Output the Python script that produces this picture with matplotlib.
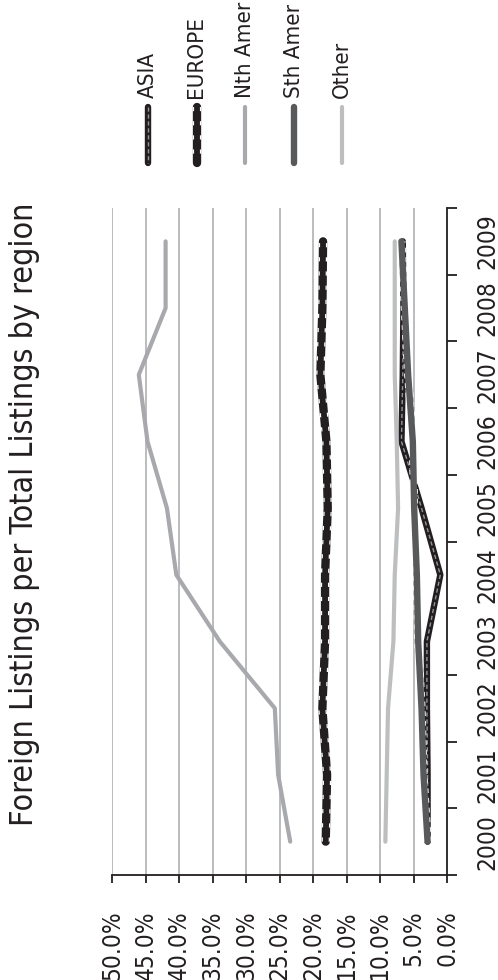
import matplotlib
matplotlib.use("Agg")
import matplotlib.pyplot as plt
from matplotlib.ticker import FixedLocator, FuncFormatter

plt.rcParams['font.family'] = ['DejaVu Sans']
plt.rcParams['font.stretch'] = 'condensed'

years = ["2000", "2001", "2002", "2003", "2004", "2005", "2006", "2007", "2008", "2009"]
asia = [2.9, 2.9, 3.0, 3.0, 1.0, 3.8, 6.8, 6.6, 6.5, 6.6]
europe = [18.1, 17.9, 18.6, 18.2, 18.2, 17.8, 18.0, 18.9, 18.6, 18.5]
nth_amer = [23.4, 25.2, 25.7, 33.9, 40.4, 41.8, 44.7, 46.0, 42.0, 42.0]
sth_amer = [2.9, 3.5, 3.8, 4.3, 4.5, 4.9, 5.1, 5.8, 6.3, 6.8]
other = [9.2, 9.0, 8.8, 8.0, 7.8, 7.3, 7.5, 7.8, 7.8, 7.8]
names = ["ASIA", "EUROPE", "Nth Amer", "Sth Amer", "Other"]
pct_ticks = [0, 5, 10, 15, 20, 25, 30, 35, 40, 45, 50]

ink = "#231f20"
grid = "#a7a9ac"

W, H = 498, 980
PT = 0.72  # points per pixel at 100 dpi
fig = plt.figure(figsize=(W / 100, H / 100), dpi=100)
ax = fig.add_axes([112 / W, 105 / H, 335 / W, 667 / H])

pos = list(range(len(years)))


def draw(a, xs, ys, style):
    # each region is drawn as a few stacked strokes
    for kw in style:
        a.plot(xs, ys, solid_capstyle="round", dash_capstyle="butt",
               solid_joinstyle="round", **kw)


styles = {
    "ASIA": [dict(color=ink, lw=4.6),
             dict(color="#939598", lw=1.0, ls=(0, (3, 2)))],
    "EUROPE": [dict(color=ink, lw=6.0),
               dict(color="white", lw=6.0, ls=(0, (0.5, 1.2))),
               dict(color=ink, lw=4.2)],
    "Nth Amer": [dict(color=grid, lw=3.0)],
    "Sth Amer": [dict(color="white", lw=5.8, ls=(0, (0.6, 0.6))),
                 dict(color="#58595b", lw=4.6)],
    "Other": [dict(color="#bcbec0", lw=3.0)],
}
series = {"ASIA": asia, "EUROPE": europe, "Nth Amer": nth_amer,
          "Sth Amer": sth_amer, "Other": other}

for x in pct_ticks[1:]:
    ax.axvline(x, color=grid, lw=1.1, zorder=0)

for n in names:
    draw(ax, series[n], pos, styles[n])

ax.set_xlim(50, 0)
ax.set_ylim(-0.5, 9.5)
ax.spines["left"].set_visible(False)
ax.spines["top"].set_visible(False)
for s in ("right", "bottom"):
    ax.spines[s].set_color(ink)
    ax.spines[s].set_linewidth(1.3)

ax.xaxis.set_major_locator(FixedLocator(pct_ticks))
ax.xaxis.set_major_formatter(FuncFormatter(lambda v, p: "%.1f%%" % v))
ax.tick_params(axis="x", direction="out", length=8 * PT, width=1.3, color=ink,
               pad=27 * PT, labelsize=17.5, labelcolor=ink, labelrotation=90)

ax.yaxis.tick_right()
ax.set_yticks(pos)
ax.set_yticklabels(years)
ax.set_yticks([p - 0.5 for p in pos] + [pos[-1] + 0.5], minor=True)
ax.tick_params(axis="y", which="major", length=0, pad=28 * PT, labelsize=17.5,
               labelcolor=ink)
ax.tick_params(axis="y", which="minor", direction="out", length=10 * PT,
               width=1.3, color=ink)
for t in ax.get_yticklabels():
    t.set_rotation(90)
    t.set_va("center")

fig.text(25 / W, 1 - 514 / H, "Foreign Listings per Total Listings by region",
         rotation=90, ha="center", va="center", fontsize=23, color=ink)

# legend strip across the top
lg = fig.add_axes([0, 1 - 200 / H, 1, 200 / H])
lg.set_xlim(0, W)
lg.set_ylim(200, 0)
lg.axis("off")
for i, n in enumerate(names):
    lx = 148 + 48.5 * i
    draw(lg, [lx, lx], [107, 163], styles[n])
    lg.text(lx, 98, n, rotation=90, ha="center", va="bottom",
            fontsize=16, color=ink)

fig.savefig("out.png", dpi=100)
